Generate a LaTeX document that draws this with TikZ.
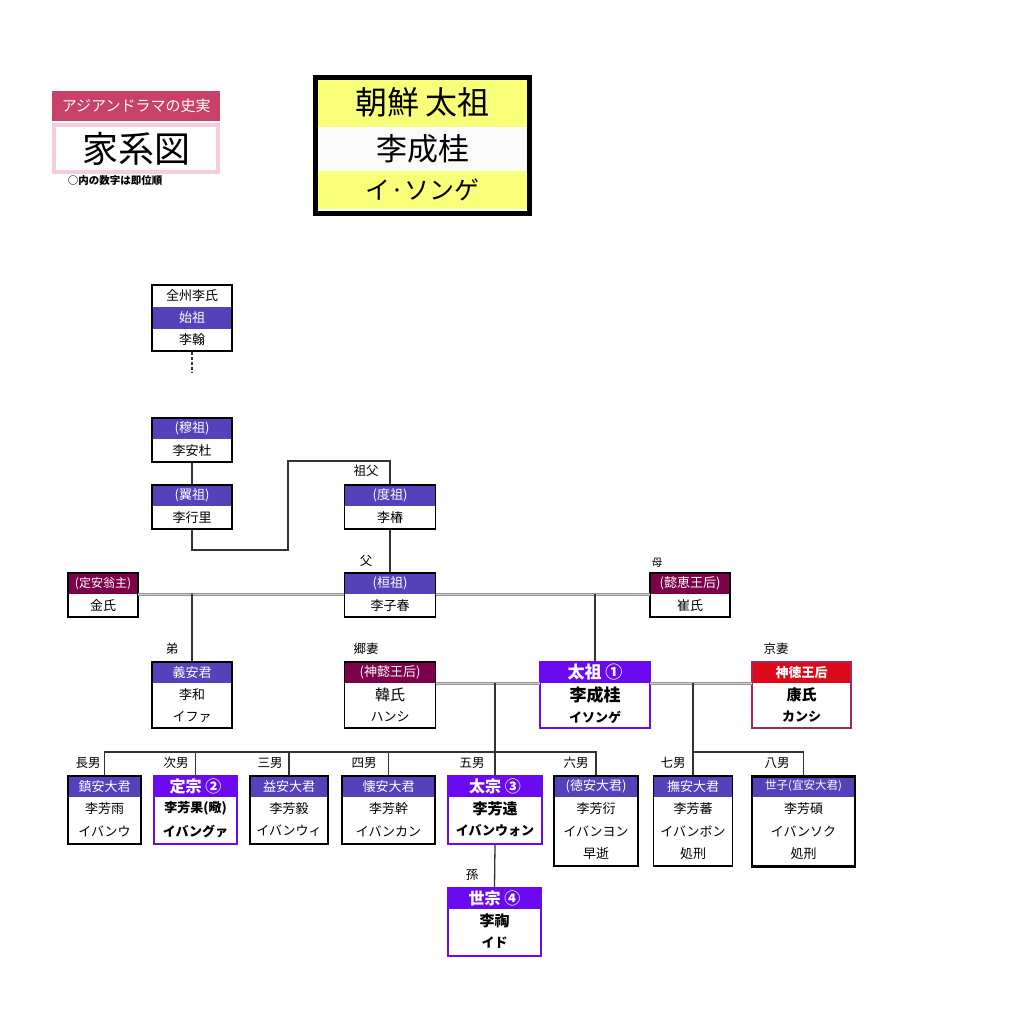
\documentclass[tikz,border=0pt]{standalone}
\usepackage{fontspec}
\setmainfont{Noto Sans CJK JP}
\definecolor{pur}{RGB}{85,65,185}
\definecolor{vpur}{RGB}{105,10,240}
\definecolor{mar}{RGB}{125,0,75}
\definecolor{redh}{RGB}{220,10,25}
\definecolor{rose}{RGB}{200,65,105}
\definecolor{lpink}{RGB}{245,205,220}
\definecolor{yel}{RGB}{248,255,120}
\definecolor{redframe}{RGB}{165,40,90}
\tikzset{
  hd/.style={inner sep=0pt, minimum height=22pt, text=white, font=\fontsize{13}{15}\selectfont},
  rw/.style={inner sep=0pt, minimum height=22pt, font=\fontsize{13}{15}\selectfont},
  frm/.style={inner sep=0pt, draw=black, line width=1.5pt},
  mainfrm/.style={draw=vpur, line width=2pt},
  conn/.style={line width=1.3pt, draw=black!80},
  marr/.style={draw=gray!85, double=gray!35, double distance=1pt, line width=0.9pt},
  lbl/.style={inner sep=0pt, font=\fontsize{12.5}{14}\selectfont},
}
\newcommand{\gbox}[9]{%
  \node[hd,#7,minimum width=#4,anchor=north] (#1-0) at (#2,#3) {#8};
  \foreach \rowtxt [count=\i] in {#9} {%
    \pgfmathtruncatemacro{\pv}{\i-1}%
    \node[rw,minimum width=#4,anchor=north] (#1-\i) at (#1-\pv.south) {\rowtxt};
  }
  \node[frm,#6,minimum width=#4,minimum height=#5,anchor=north] (#1) at (#2,#3) {};
}
\newcommand{\bigb}{\bfseries\fontsize{15}{17}\selectfont}
\newcommand{\midb}{\bfseries\fontsize{13}{15}\selectfont}
\begin{document}
\begin{tikzpicture}[x=1pt,y=-1pt]
\useasboundingbox (0,0) rectangle (1024,1014);
% header
\node[fill=rose, minimum width=168pt, minimum height=30pt, inner sep=0pt, anchor=north west, text=white, font=\fontsize{15}{17}\selectfont] (hdr) at (52,91) {アジアンドラマの史実};
\node[draw=lpink, line width=4pt, fill=white, minimum width=164pt, minimum height=47pt, inner sep=0pt, anchor=north, font=\fontsize{36}{40}\selectfont] (kakei) at ([yshift=-2pt]hdr.south) {家系図};
\node[inner sep=0pt, font=\bfseries\fontsize{10.5}{12}\selectfont] (note) at (115,181) {○内の数字は即位順};
% title
\node[fill=yel, minimum width=214pt, minimum height=49pt, inner sep=0pt, anchor=north, font=\fontsize{32}{36}\selectfont] (t1) at (422.5,78) {朝鮮\hspace{6pt}太祖};
\node[fill=black!2, minimum width=214pt, minimum height=43pt, inner sep=0pt, anchor=north, font=\fontsize{31}{35}\selectfont] (t2) at (t1.south) {李成桂};
\node[fill=yel, minimum width=214pt, minimum height=38pt, inner sep=0pt, anchor=north, font=\fontsize{25}{29}\selectfont] (t3) at (t2.south) {イ·ソンゲ};
\node[draw=black, line width=5pt, minimum width=214pt, minimum height=135pt, inner sep=0pt, anchor=north] (tbox) at (422.5,75.5) {};
% top ancestor
\node[rw, minimum width=80pt, anchor=north] (lihan-a) at (192,284) {全州李氏};
\node[hd, fill=pur, minimum width=80pt, anchor=north] (lihan-0) at (lihan-a.south) {始祖};
\node[rw, minimum width=80pt, anchor=north] (lihan-1) at (lihan-0.south) {李翰};
\node[frm, minimum width=80pt, minimum height=66pt, anchor=north] (lihan) at (192,284) {};
\gbox{muzo}{192}{417}{80pt}{44pt}{}{fill=pur}{(穆祖)}{李安杜}
\gbox{ikjo}{192}{484}{80pt}{44pt}{}{fill=pur}{(翼祖)}{李行里}
\gbox{dojo}{390}{484}{91pt}{44pt}{}{fill=pur}{(度祖)}{李椿}
\gbox{hwanjo}{390}{572}{91pt}{44pt}{}{fill=pur}{(桓祖)}{李子春}
\gbox{jeongan}{103}{572}{70pt}{44pt}{}{fill=mar,font=\fontsize{12}{14}\selectfont}{(定安翁主)}{金氏}
\gbox{uihye}{690}{572}{80pt}{44pt}{}{fill=mar}{(懿恵王后)}{崔氏}
\gbox{uian}{192}{661}{80pt}{66pt}{}{fill=pur}{義安君}{李和,イファ}
\gbox{sinui}{390}{661}{91pt}{66pt}{}{fill=mar}{(神懿王后)}{{\fontsize{15}{17}\selectfont 韓氏},ハンシ}
\gbox{taejo}{595}{661}{110pt}{66pt}{mainfrm}{fill=vpur,font=\bfseries\fontsize{17}{19}\selectfont}{太祖 ①}{{\bfseries\fontsize{17}{19}\selectfont 李成桂},{\midb イソンゲ}}
\gbox{sindeok}{801.5}{661}{99pt}{66pt}{draw=redframe}{fill=redh,font=\bfseries\fontsize{13}{15}\selectfont}{神徳王后}{{\bigb 康氏},{\midb カンシ}}
\gbox{jinan}{104.5}{775}{73pt}{68pt}{}{fill=pur}{鎮安大君}{李芳雨,イバンウ}
\gbox{jeongjong}{195.5}{775}{83pt}{68pt}{mainfrm}{fill=vpur,font=\bfseries\fontsize{16}{18}\selectfont}{定宗 ②}{{\midb 李芳果(曔)},{\midb イバングァ}}
\gbox{ikan}{289}{775}{78pt}{68pt}{}{fill=pur}{益安大君}{李芳毅,イバンウィ}
\gbox{hoean}{388.5}{775}{93pt}{68pt}{}{fill=pur}{懐安大君}{李芳幹,イバンカン}
\gbox{taejong}{495}{775}{94pt}{68pt}{mainfrm}{fill=vpur,font=\bfseries\fontsize{16}{18}\selectfont}{太宗 ③}{{\bigb 李芳遠},{\midb イバンウォン}}
\gbox{deokan}{596}{775}{84pt}{90pt}{}{fill=pur}{(徳安大君)}{李芳衍,イバンヨン,早逝}
\gbox{muan}{693}{775}{79pt}{90pt}{}{fill=pur}{撫安大君}{李芳蕃,イバンボン,処刑}
\gbox{seja}{803.5}{775}{103pt}{90pt}{line width=2.5pt}{fill=pur,font=\fontsize{11.5}{13}\selectfont}{世子(宜安大君)}{李芳碩,イバンソク,処刑}
\gbox{sejong}{494.5}{887}{93pt}{68pt}{mainfrm}{fill=vpur,font=\bfseries\fontsize{16}{18}\selectfont}{世宗 ④}{{\bigb 李祹},{\midb イド}}
% connectors
\coordinate (dashend) at (192,372);
\draw[conn, dash pattern=on 3pt off 2pt] (lihan.south) -- (dashend);
\draw[conn] (muzo.south) -- (ikjo.north);
\coordinate (j1) at (288,550);
\coordinate (j2) at (288,461);
\draw[conn] (ikjo.south) |- (j1) -- (j2) -| (dojo.north);
\draw[conn] (dojo.south) -- (hwanjo.north);
\draw[marr] (jeongan-0.south east) -- (hwanjo-0.south west);
\draw[marr] (hwanjo-0.south east) -- (uihye-0.south west);
\draw[conn] (uian.north |- jeongan-0.south) -- (uian.north);
\draw[conn] (taejo.north |- hwanjo-0.south) -- (taejo.north);
\draw[marr] (sinui-0.south east) -- (taejo-0.south west);
\draw[marr] (taejo-0.south east) -- (sindeok-0.south west);
\coordinate (bar) at (0,752);
\draw[conn] (taejong.north |- sinui-0.south) -- (taejong.north);
\draw[conn] (jinan.north) |- (bar -| deokan.north) -- (deokan.north);
\foreach \c in {jeongjong,ikan,hoean} \draw[conn] (\c.north |- bar) -- (\c.north);
\draw[conn] (muan.north |- taejo-0.south) -- (muan.north);
\draw[conn] (muan.north |- bar) -| (seja.north);
\draw[conn] (taejong.south) -- (sejong.north);
% labels
\node[lbl] (l-sofu) at (366,471) {祖父};
\node[lbl] (l-chichi) at (366,561) {父};
\node[lbl] (l-otouto) at (172,649) {弟};
\node[lbl] (l-kyosai) at (366,649) {郷妻};
\node[lbl, font=\fontsize{10.5}{12}\selectfont] (l-haha) at (657,563) {母};
\node[lbl] (l-keisai) at (776,649) {京妻};
\node[lbl] (l-1) at (88,763) {長男};
\node[lbl] (l-2) at (176,763) {次男};
\node[lbl] (l-3) at (270,763) {三男};
\node[lbl] (l-4) at (364,763) {四男};
\node[lbl] (l-5) at (472,763) {五男};
\node[lbl] (l-6) at (576,763) {六男};
\node[lbl] (l-7) at (673,763) {七男};
\node[lbl] (l-8) at (777,763) {八男};
\node[lbl] (l-mago) at (472,875) {孫};
\end{tikzpicture}
\end{document}
